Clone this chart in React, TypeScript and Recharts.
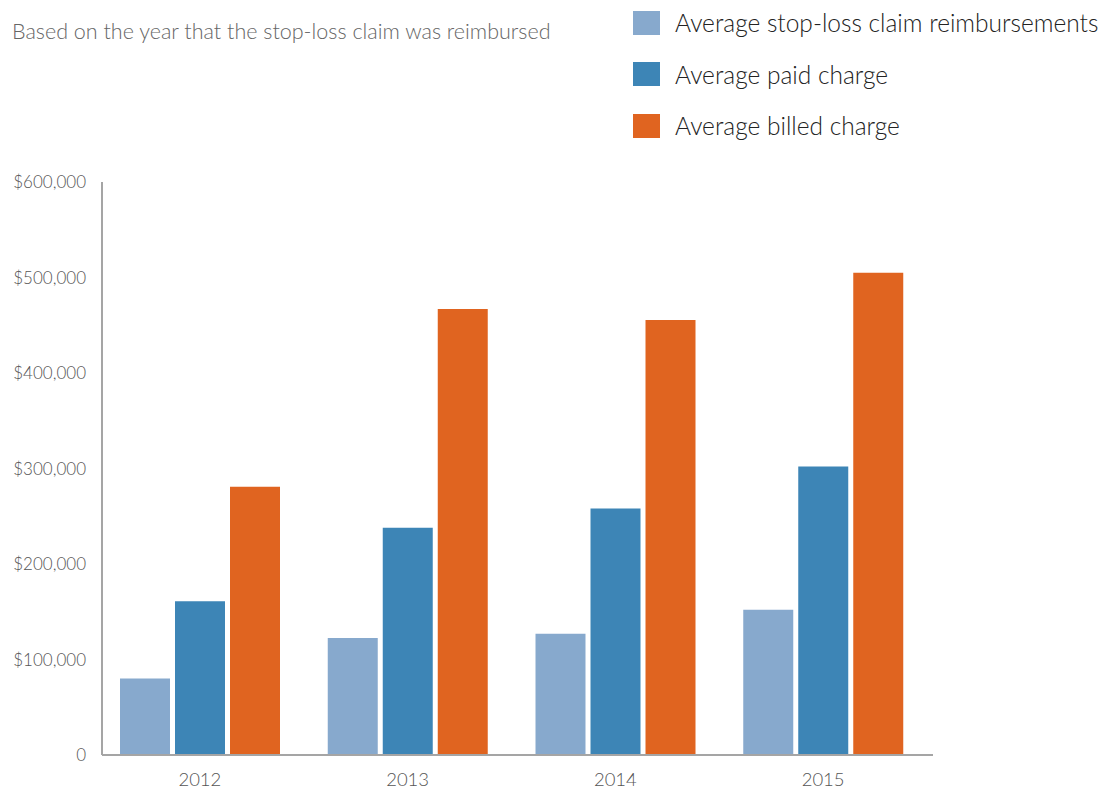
import React from "react";
import { BarChart, Bar, XAxis, YAxis } from "recharts";

const years = ["2012", "2013", "2014", "2015"];
const reimbursements = [80000, 122500, 127000, 152000];
const paidCharge = [161000, 238000, 258000, 302000];
const billedCharge = [281000, 467000, 455500, 505000];
const yTicks = [0, 100000, 200000, 300000, 400000, 500000, 600000];

const seriesNames = [
  "Average stop-loss claim reimbursements",
  "Average paid charge",
  "Average billed charge",
];
const colors = ["#87a9cd", "#3d85b6", "#e06420"];

const data = years.map((y, i) => ({
  year: y,
  reimb: reimbursements[i],
  paid: paidCharge[i],
  billed: billedCharge[i],
}));

const FONT = "Lato, 'Open Sans', sans-serif";

const fmt = (v: number) => (v === 0 ? "0" : "$" + v.toLocaleString("en-US"));

export default function App() {
  return (
    <div
      style={{
        position: "absolute",
        left: 0,
        top: 0,
        width: 1118,
        height: 793,
        background: "#fff",
        overflow: "hidden",
      }}
    >
      <div
        style={{
          position: "absolute",
          left: 12,
          top: 18,
          fontFamily: FONT,
          fontSize: 21.5,
          color: "#666",
          fontWeight: 300,
          whiteSpace: "nowrap",
        }}
      >
        Based on the year that the stop-loss claim was reimbursed
      </div>
      <div style={{ position: "absolute", left: 633, top: -3, fontFamily: FONT }}>
        {seriesNames.map((n, i) => (
          <div key={n} style={{ display: "flex", alignItems: "center", height: 51.5 }}>
            <div
              style={{ width: 27, height: 24, background: colors[i], marginRight: 15 }}
            />
            <span style={{ fontSize: 24.5, color: "#222", fontWeight: 300, whiteSpace: "nowrap" }}>
              {n}
            </span>
          </div>
        ))}
      </div>
      <BarChart
        width={1118}
        height={793}
        data={data}
        margin={{ top: 182, right: 185, bottom: 8, left: 0 }}
        barSize={50}
        barGap={5}
        style={{ position: "absolute", left: 0, top: 0 }}
      >
        <XAxis
          dataKey="year"
          padding={{ left: -6, right: 6 }}
          axisLine={{ stroke: "#a5a5a5", strokeWidth: 2 }}
          tickLine={false}
          tickSize={0}
          tickMargin={18}
          height={30}
          tick={{ fontFamily: FONT, fontSize: 18.5, fill: "#555", fontWeight: 300 }}
        />
        <YAxis
          width={102}
          domain={[0, 600000]}
          ticks={yTicks}
          tickFormatter={fmt}
          axisLine={{ stroke: "#a5a5a5", strokeWidth: 2 }}
          tickLine={false}
          tickSize={0}
          tickMargin={16}
          interval={0}
          tick={{ fontFamily: FONT, fontSize: 17, fill: "#555", fontWeight: 300 }}
        />
        <Bar dataKey="reimb" name={seriesNames[0]} fill={colors[0]} isAnimationActive={false} />
        <Bar dataKey="paid" name={seriesNames[1]} fill={colors[1]} isAnimationActive={false} />
        <Bar dataKey="billed" name={seriesNames[2]} fill={colors[2]} isAnimationActive={false} />
      </BarChart>
    </div>
  );
}
